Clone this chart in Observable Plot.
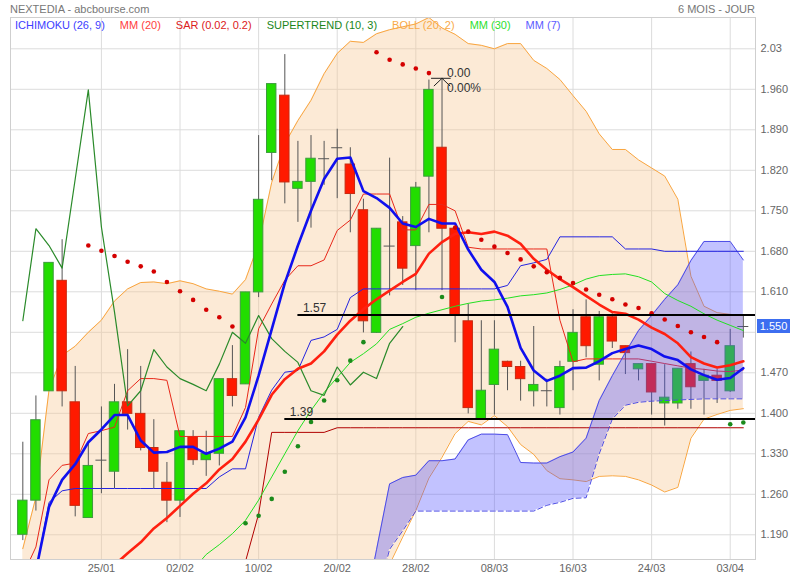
<!DOCTYPE html>
<html><head><meta charset="utf-8">
<script src="https://cdn.jsdelivr.net/npm/d3@7"></script>
<script src="https://cdn.jsdelivr.net/npm/@observablehq/plot@0.6"></script>
<style>
body{margin:0;background:#fff;font-family:"Liberation Sans",Arial,sans-serif;}
#wrap{position:relative;width:800px;height:580px;overflow:hidden;background:#fff}
#chart svg{display:block}
.hdr{position:absolute;top:2px;font-size:11px;color:#777;line-height:14px;white-space:nowrap}
#legend{position:absolute;left:15px;top:18px;display:flex;gap:15px;font-size:11px;line-height:14px;white-space:nowrap}
#last{position:absolute;left:757px;width:33px;height:14px;background:#3d6ef0;color:#fff;font-size:11px;line-height:14px;text-align:center}
</style></head><body>
<div id="wrap"><div id="chart"></div>
<div class="hdr" style="left:10px">NEXTEDIA - abcbourse.com</div>
<div class="hdr" style="right:45px">6 MOIS - JOUR</div>
<div id="legend"></div>
<div id="last"></div>
</div>
<script>
// ---------- data ----------
const dates = ["17/01","18/01","19/01","20/01","23/01","24/01","25/01","26/01","27/01","30/01","31/01","01/02","02/02","03/02","06/02","07/02","08/02","09/02","10/02","13/02","14/02","15/02","16/02","17/02","20/02","21/02","22/02","23/02","24/02","27/02","28/02","01/03","02/03","03/03","06/03","07/03","08/03","09/03","10/03","13/03","14/03","15/03","16/03","17/03","20/03","21/03","22/03","23/03","24/03","27/03","28/03","29/03","30/03","31/03","03/04","04/04"];
const xTickLabels = ["25/01","02/02","10/02","20/02","28/02","08/03","16/03","24/03","03/04"];
const yTicks = [2.03,1.96,1.89,1.82,1.75,1.68,1.61,1.54,1.47,1.40,1.33,1.26,1.19];
const yTickLabels = ["2.03","1.960","1.890","1.820","1.750","1.680","1.610","","1.470","1.400","1.330","1.260","1.190"];

const open = [1.190,1.249,1.438,1.629,1.419,1.219,1.319,1.299,1.419,1.399,
  1.340,1.280,1.249,1.359,1.319,1.330,1.459,1.450,1.609,1.850,
  1.949,1.788,1.800,1.840,1.859,1.830,1.751,1.539,1.689,1.730,
  1.689,1.809,1.859,1.719,1.559,1.389,1.449,1.489,1.480,1.438,
  1.439,1.409,1.489,1.566,1.484,1.566,1.516,1.476,1.485,1.417,
  1.417,1.485,1.456,1.465,1.438,1.550];
const high = [1.350,1.430,1.660,1.700,1.481,1.350,1.411,1.450,1.510,1.481,
  1.389,1.315,1.369,1.370,1.369,1.459,1.517,1.609,1.880,1.969,
  2.020,1.870,1.880,1.870,1.891,1.859,1.770,1.719,1.841,1.740,
  1.799,1.976,1.979,1.722,1.589,1.560,1.560,1.490,1.490,1.550,
  1.459,1.490,1.579,1.596,1.576,1.572,1.516,1.485,1.485,1.484,
  1.477,1.506,1.476,1.476,1.545,1.570];
const low = [1.180,1.231,1.438,1.411,1.221,1.219,1.261,1.270,1.371,1.335,
  1.270,1.211,1.220,1.310,1.291,1.309,1.411,1.450,1.600,1.802,
  1.762,1.730,1.720,1.794,1.771,1.712,1.539,1.538,1.603,1.621,
  1.612,1.712,1.612,1.522,1.399,1.389,1.397,1.439,1.421,1.411,
  1.411,1.397,1.439,1.496,1.456,1.512,1.467,1.456,1.397,1.378,
  1.407,1.407,1.397,1.417,1.436,1.530];
const close = [1.249,1.388,1.660,1.438,1.240,1.309,1.319,1.419,1.399,1.340,
  1.299,1.249,1.369,1.319,1.330,1.459,1.430,1.609,1.769,1.969,
  1.799,1.800,1.840,1.840,1.859,1.779,1.559,1.719,1.689,1.650,
  1.790,1.959,1.719,1.569,1.409,1.439,1.510,1.480,1.459,1.449,
  1.439,1.480,1.539,1.516,1.566,1.524,1.504,1.485,1.436,1.427,
  1.477,1.445,1.465,1.456,1.516,1.550];

// Bollinger (20, 2)
const bollUpper = [1.166,1.255,1.440,1.500,1.516,1.540,1.561,1.594,1.615,1.626,
  1.627,1.624,1.629,1.624,1.615,1.611,1.606,1.631,1.693,1.799,
  1.866,1.906,1.941,1.987,2.022,2.043,2.041,2.056,2.063,2.068,
  2.073,2.084,2.066,2.055,2.039,2.036,2.030,2.039,2.039,2.010,
  1.996,1.977,1.949,1.922,1.883,1.856,1.856,1.838,1.824,1.810,
  1.770,1.637,1.585,1.574,1.571,1.569];
const bollLower = [1.100,1.020,0.960,0.930,0.920,0.930,0.940,0.950,0.960,0.970,
  0.980,0.990,1.000,1.010,1.010,1.010,1.000,0.980,0.940,0.900,
  0.880,0.880,0.890,0.910,0.940,0.970,1.010,1.090,1.139,1.186,
  1.232,1.288,1.324,1.365,1.386,1.380,1.396,1.377,1.346,1.329,
  1.301,1.287,1.285,1.282,1.291,1.292,1.291,1.285,1.276,1.264,
  1.272,1.357,1.390,1.398,1.405,1.408];

// Ichimoku (26, 9)
const tenkan = [1.120,1.169,1.285,1.310,1.314,1.365,1.370,1.376,1.439,1.460,
  1.460,1.457,1.360,1.360,1.360,1.360,1.360,1.410,1.546,1.589,
  1.630,1.655,1.655,1.665,1.716,1.734,1.779,1.779,1.779,1.717,
  1.717,1.761,1.761,1.750,1.687,1.684,1.684,1.684,1.684,1.684,
  1.684,1.561,1.489,1.494,1.494,1.494,1.494,1.494,1.490,1.486,
  1.482,1.478,1.476,1.473,1.472,1.475];
const kijun = [null,1.127,1.246,1.266,1.270,1.270,1.270,1.270,1.270,1.270,
  1.270,1.270,1.270,1.270,1.270,1.290,1.304,1.304,1.393,1.440,
  1.471,1.474,1.526,1.532,1.545,1.600,1.615,1.615,1.615,1.615,
  1.615,1.615,1.615,1.615,1.615,1.615,1.615,1.621,1.655,1.660,
  1.666,1.705,1.705,1.705,1.705,1.705,1.684,1.684,1.684,1.680,
  1.680,1.680,1.680,1.680,1.680,1.680];
const lagLine = [null,null,null,null,null,null,null,null,null,null,
  null,null,null,null,null,null,1.070,1.144,1.226,1.367,
  1.367,1.367,1.367,1.367,1.375,1.375,1.375,1.375,1.375,1.375,
  1.375,1.375,1.375,1.375,1.375,1.375,1.375,1.375,1.375,1.375,
  1.375,1.375,1.375,1.375,1.375,1.375,1.375,1.375,1.375,1.375,
  1.375,1.375,1.375,1.375,1.375,1.375];
const spanA = [null,null,null,null,null,null,null,null,null,null,
  null,null,null,null,null,null,null,null,null,null,
  null,null,null,null,null,null,1.050,1.164,1.278,1.289,
  1.293,1.318,1.318,1.321,1.354,1.364,1.364,1.363,1.315,1.314,
  1.314,1.325,1.333,1.357,1.422,1.465,1.505,1.543,1.569,1.597,
  1.622,1.664,1.697,1.697,1.697,1.665];
const spanB = [null,null,null,null,null,null,null,null,null,null,
  null,null,null,null,null,null,null,null,null,null,
  null,null,null,null,null,null,0.950,1.080,1.165,1.197,
  1.231,1.231,1.231,1.231,1.231,1.231,1.231,1.231,1.231,1.231,
  1.241,1.246,1.253,1.254,1.330,1.390,1.414,1.419,1.421,1.422,
  1.423,1.424,1.425,1.425,1.425,1.425];

// MM (20), MM (7), MM (30)
const mm20 = [null,null,null,null,null,null,null,1.138,1.158,1.177,
  1.201,1.219,1.240,1.261,1.279,1.303,1.321,1.351,1.389,1.432,
  1.459,1.477,1.486,1.507,1.536,1.560,1.580,1.597,1.612,1.627,
  1.641,1.676,1.696,1.710,1.713,1.710,1.714,1.707,1.693,1.667,
  1.648,1.632,1.618,1.603,1.588,1.575,1.572,1.562,1.548,1.537,
  1.521,1.497,1.486,1.479,1.483,1.490];
const mm7 = [null,1.128,1.238,1.285,1.312,1.350,1.372,1.397,1.397,1.353,
  1.332,1.333,1.342,1.342,1.330,1.339,1.351,1.393,1.465,1.545,
  1.625,1.690,1.750,1.805,1.840,1.842,1.784,1.772,1.755,1.728,
  1.722,1.736,1.728,1.728,1.683,1.648,1.627,1.584,1.513,1.474,
  1.456,1.465,1.478,1.479,1.490,1.504,1.511,1.517,1.511,1.498,
  1.492,1.476,1.466,1.458,1.461,1.478];
const mm30 = [null,null,null,null,null,null,null,null,null,null,
  null,null,null,1.130,1.156,1.173,1.192,1.215,1.250,1.290,
  1.330,1.370,1.405,1.436,1.462,1.488,1.503,1.520,1.545,1.555,
  1.566,1.573,1.579,1.585,1.590,1.594,1.596,1.599,1.603,1.605,
  1.608,1.614,1.622,1.632,1.638,1.640,1.641,1.636,1.627,1.607,
  1.595,1.585,1.572,1.561,1.552,1.543];

// SUPERTREND (10, 3)
const supertrend = [1.560,1.719,1.690,1.651,1.805,1.959,1.722,1.575,1.413,1.439,
  1.510,1.480,1.460,1.450,1.439,1.485,1.540,1.521,1.569,1.529,
  1.507,1.488,1.439,1.431,1.480,1.449,1.471,1.460,1.521,1.550,
  null,null,null,null,null,null,null,null,null,null,
  null,null,null,null,null,null,null,null,null,null,
  null,null,null,null,null,null];

// SAR (0.02, 0.2)
const sarAbove = [null,null,null,null,null,1.690,1.681,1.672,1.662,1.654,
  1.645,1.627,1.611,1.596,1.579,1.566,1.550,null,null,null,
  null,null,null,null,null,null,null,2.024,2.011,2.003,
  1.996,1.988,null,1.721,1.714,1.700,1.688,1.677,1.666,1.654,
  1.644,1.634,1.625,1.614,1.605,1.597,1.588,1.582,1.573,1.562,
  1.551,1.540,1.532,1.523,null,null];
const sarBelow = [null,null,null,null,null,null,null,null,null,null,
  null,null,null,null,null,null,null,1.210,1.223,1.252,
  1.299,1.343,1.385,1.422,1.457,1.491,1.523,null,null,null,
  null,null,1.601,null,null,null,null,null,null,null,
  null,null,null,null,null,null,null,null,null,null,
  null,null,null,null,1.381,1.384];

// horizontal levels
const levelValues = [1.57, 1.39];
const levelLabels = ["1.57", "1.39"];
const levelStartDates = ["15/02", "14/02"];

// marker on the 02/03 high
const markerDate = "02/03";
const markerTexts = ["0.00", "0.00%"];

const lastPrice = 1.55;
const lastPriceLabel = "1.550";

const legendNames = ["ICHIMOKU (26, 9)","MM (20)","SAR (0.02, 0.2)","SUPERTREND (10, 3)","BOLL (20, 2)","MM (30)","MM (7)"];
const legendColors = ["#4040ff","#ff4040","#dc2020","#1a861a","#f9aa48","#2ee02e","#5c5cff"];

// ---------- build ----------
const rows = dates.map((d, i) => ({
  i, date: d, o: open[i], h: high[i], l: low[i], c: close[i],
  bu: bollUpper[i], bl: bollLower[i], tk: tenkan[i], kj: kijun[i], lag: lagLine[i],
  sa: spanA[i], sb: spanB[i], m20: mm20[i], m7: mm7[i], m30: mm30[i],
  st: supertrend[i], sarA: sarAbove[i], sarB: sarBelow[i]
}));
const ups = rows.filter(d => d.c > d.o);
const downs = rows.filter(d => d.c < d.o);
const dojis = rows.filter(d => d.c === d.o);
const xTickIdx = xTickLabels.map(l => dates.indexOf(l));
const yLabelMap = new Map(yTicks.map((t, k) => [t, yTickLabels[k]]));
const levels = levelValues.map((v, k) => ({v, label: levelLabels[k], i: dates.indexOf(levelStartDates[k])}));
const mi = dates.indexOf(markerDate);
const marker = {i: mi, v: high[mi]};
const caret = [{x: mi - 0.6, y: marker.v - 0.013}, {x: mi, y: marker.v}, {x: mi + 0.6, y: marker.v - 0.013}];

const chart = Plot.plot({
  width: 800, height: 580,
  marginTop: 17, marginBottom: 21, marginLeft: 10, marginRight: 45,
  style: {fontFamily: "'Liberation Sans', Arial, sans-serif", fontSize: "11px", color: "#666", background: "transparent"},
  x: {type: "linear", domain: [-0.94, 55.93], ticks: xTickIdx, tickFormat: i => dates[i], tickSize: 0, tickPadding: 5, label: null},
  y: {domain: [1.1473, 2.0841], axis: "right", ticks: yTicks, tickFormat: v => yLabelMap.get(v), tickSize: 0, tickPadding: 5, label: null},
  marks: [
    Plot.ruleY(yTicks, {stroke: "#dcdcdc"}),
    Plot.ruleX(xTickIdx, {stroke: "#dcdcdc"}),
    // Bollinger band
    Plot.areaY(rows, {x: "i", y1: "bl", y2: "bu", fill: "#f7c994", fillOpacity: 0.38, clip: true}),
    Plot.line(rows, {x: "i", y: "bu", stroke: "#f9a53f", strokeWidth: 1, clip: true}),
    Plot.line(rows, {x: "i", y: "bl", stroke: "#f9a53f", strokeWidth: 1, clip: true}),
    // candles
    Plot.ruleX(rows, {x: "i", y1: "l", y2: "h", stroke: "#555", strokeWidth: 1, clip: true}),
    Plot.rect(ups, {x1: d => d.i - 0.36, x2: d => d.i + 0.36, y1: "o", y2: "c", fill: "#22dd00", stroke: "#3c9c3c", strokeWidth: 1}),
    Plot.rect(downs, {x1: d => d.i - 0.36, x2: d => d.i + 0.36, y1: "o", y2: "c", fill: "#ff1a00", stroke: "#c82a10", strokeWidth: 1}),
    Plot.ruleY(dojis, {y: "c", x1: d => d.i - 0.42, x2: d => d.i + 0.42, stroke: "#555", strokeWidth: 1}),
    // ichimoku thin red lines (under the cloud)
    Plot.line(rows, {x: "i", y: "tk", stroke: "#e8281a", strokeWidth: 1, clip: true}),
    Plot.line(rows, {x: "i", y: "lag", stroke: "#b00000", strokeWidth: 1, clip: true}),
    // cloud
    Plot.areaY(rows, {x: "i", y1: "sb", y2: "sa", fill: "#5050ff", fillOpacity: 0.35, clip: true}),
    Plot.line(rows, {x: "i", y: "sa", stroke: "#4c4ce6", strokeWidth: 1, clip: true}),
    Plot.line(rows, {x: "i", y: "sb", stroke: "#4c4ce6", strokeWidth: 1, strokeDasharray: "5,3", clip: true}),
    Plot.line(rows, {x: "i", y: "kj", stroke: "#2424e0", strokeWidth: 1, clip: true}),
    // moving averages & supertrend
    Plot.line(rows, {x: "i", y: "m30", stroke: "#22e022", strokeWidth: 1, clip: true}),
    Plot.line(rows, {x: "i", y: "st", stroke: "#2a8a2a", strokeWidth: 1.2, clip: true}),
    Plot.line(rows, {x: "i", y: "m20", stroke: "#ff2010", strokeWidth: 2.6, clip: true}),
    Plot.line(rows, {x: "i", y: "m7", stroke: "#1010ee", strokeWidth: 2.6, clip: true}),
    // SAR
    Plot.dot(rows, {x: "i", y: "sarA", r: 2.3, fill: "#d40000", stroke: null, clip: true}),
    Plot.dot(rows, {x: "i", y: "sarB", r: 2.3, fill: "#1b8a1b", stroke: null, clip: true}),
    // levels
    Plot.ruleY(levels, {y: "v", x1: "i", x2: () => dates.length, stroke: "#000", strokeWidth: 2, clip: true}),
    Plot.text(levels, {x: "i", y: "v", text: "label", dx: 5, dy: -7, textAnchor: "start", fill: "#333", fontSize: 12}),
    // marker
    Plot.ruleY([marker], {y: "v", x1: d => d.i - 0.8, x2: d => d.i + 0.7, stroke: "#222"}),
    Plot.line(caret, {x: "x", y: "y", stroke: "#222", strokeWidth: 1}),
    Plot.text([marker], {x: "i", y: "v", text: () => markerTexts[0], dx: 5, dy: -5, textAnchor: "start", fill: "#333", fontSize: 12}),
    Plot.text([marker], {x: "i", y: "v", text: () => markerTexts[1], dx: 5, dy: 10, textAnchor: "start", fill: "#333", fontSize: 12}),
    Plot.frame({stroke: "#cfcfcf"})
  ]
});
document.getElementById("chart").appendChild(chart);

// legend
const lg = document.getElementById("legend");
legendNames.forEach((n, k) => {
  const s = document.createElement("span");
  s.textContent = n; s.style.color = legendColors[k];
  lg.appendChild(s);
});
// last price tag
const last = document.getElementById("last");
last.textContent = lastPriceLabel;
last.style.top = (chart.scale("y").apply(lastPrice) - 7) + "px";
</script>
</body></html>
